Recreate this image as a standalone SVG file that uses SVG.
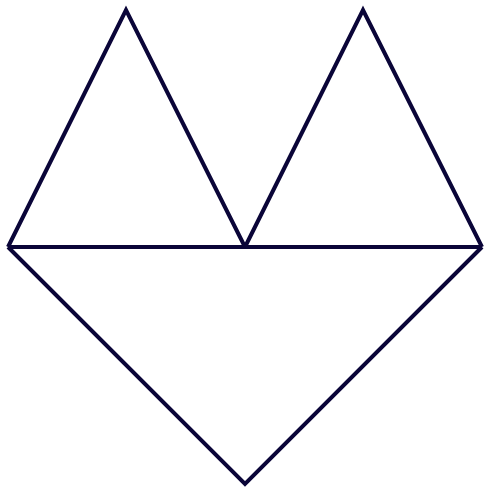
<svg xmlns="http://www.w3.org/2000/svg" width="490" height="494" viewBox="0 0 490 494">
<style>.s{fill:none;stroke:#0a0538;stroke-width:4;stroke-linejoin:miter;stroke-linecap:butt}</style>
<rect width="490" height="494" fill="#ffffff"/>
<g id="shape">
<path class="s" d="M8,247 L126,10 L245,247"/>
<path class="s" d="M245,247 L363,10 L482,247"/>
<path class="s" d="M8,247 L482,247"/>
<path class="s" d="M8,247 L245,484 L482,247"/>
</g>
</svg>
